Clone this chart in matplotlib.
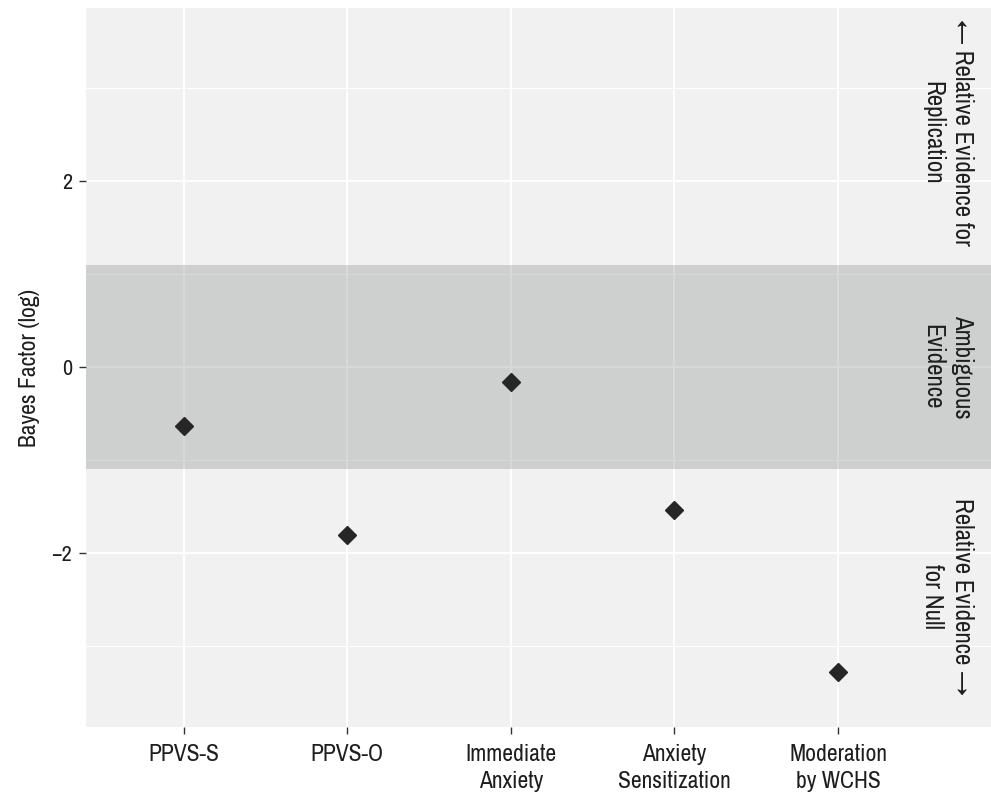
import matplotlib
matplotlib.use("Agg")
import matplotlib.pyplot as plt
from matplotlib import font_manager
from matplotlib.ticker import MultipleLocator

# ── Data ──────────────────────────────────────────────────────────────────────
categories = ["PPVS-S", "PPVS-O", "Immediate\nAnxiety", "Anxiety\nSensitization",
              "Moderation\nby WCHS"]
log_bf = [-0.63, -1.81, -0.165, -1.54, -3.28]

band_low, band_high = -1.0986, 1.0986   # log(1/3) .. log(3)
region_labels = ["\u2190 Relative Evidence for\nReplication",
                 "Ambiguous\nEvidence",
                 "Relative Evidence \u2192\nfor Null"]
region_y = [2.52, 0.0, -2.47]

# ── Font: narrow sans, close to the condensed Helvetica of the original ──────
installed = {f.name for f in font_manager.fontManager.ttflist}
family = "Archivo Narrow" if "Archivo Narrow" in installed else "Roboto"
plt.rcParams["font.family"] = [family, "DejaVu Sans"]

ink = "#1e1e1e"
panel_bg = "#f0f1f0"

fig = plt.figure(figsize=(9.91, 7.99), dpi=100)
ax = fig.add_axes([86 / 991, 1 - 727 / 799, 1 - 86 / 991, (727 - 8) / 799])
ax.set_facecolor(panel_bg)

x = list(range(1, len(categories) + 1))

# grid
ax.yaxis.set_major_locator(MultipleLocator(2))
ax.yaxis.set_minor_locator(MultipleLocator(1))
ax.set_xticks(x)
ax.grid(which="major", color="white", linewidth=1.4)
ax.grid(which="minor", axis="y", color="white", linewidth=0.7)
ax.set_axisbelow(True)

# ambiguous band
ax.axhspan(band_low, band_high, color="#828385", alpha=0.3, linewidth=0, zorder=1.5)

# points
ax.plot(x, log_bf, linestyle="none", marker="D", markersize=9.5,
        color="#262626", zorder=3)

# region annotations on the right
for lab, yy in zip(region_labels, region_y):
    ax.text(5.67, yy, lab, rotation=-90, ha="center", va="center",
            fontsize=18, color=ink, linespacing=1.4, multialignment="center")

ax.set_xlim(0.404, 5.935)
ax.set_ylim(-3.87, 3.86)

ax.set_xticklabels(categories, fontsize=17, color=ink, linespacing=1.35)
ax.set_yticks([-2, 0, 2])
ax.set_yticklabels(["\u22122", "0", "2"], fontsize=16, color=ink)
ax.tick_params(axis="x", which="major", pad=7)
ax.tick_params(axis="y", which="major", pad=5)
ax.tick_params(which="major", length=5, width=1, color="#333333")
ax.tick_params(which="minor", length=0)
ax.set_ylabel("Bayes Factor (log)", fontsize=17, color=ink, labelpad=8)

for s in ax.spines.values():
    s.set_visible(False)

fig.savefig("out.png", dpi=100)
